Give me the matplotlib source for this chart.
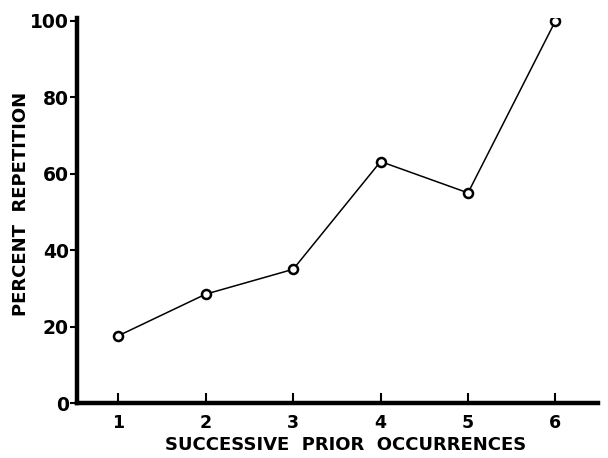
import matplotlib.pyplot as plt

# Successive prior occurrences vs percent repetition
occurrences = [1, 2, 3, 4, 5, 6]
percent_repetition = [17.6, 28.5, 35.0, 63.2, 55.0, 100.0]
y_ticks = [0, 20, 40, 60, 80, 100]

plt.rcParams['font.family'] = ['DejaVu Sans']
plt.rcParams['font.weight'] = 'bold'

fig = plt.figure(figsize=(6.08, 4.58), dpi=100)
ax = fig.add_axes([0.127, 0.120, 0.857, 0.841])

ax.plot(occurrences, percent_repetition, color='black', linewidth=1.1,
        marker='o', markersize=6.5, markerfacecolor='white',
        markeredgecolor='black', markeredgewidth=1.8)

ax.set_xlim(0.53, 6.49)
ax.set_ylim(0, 100.8)
ax.set_xticks(occurrences)
ax.set_yticks(y_ticks)

for side in ['top', 'right']:
    ax.spines[side].set_visible(False)
for side in ['left', 'bottom']:
    ax.spines[side].set_linewidth(3.2)

ax.tick_params(axis='x', direction='in', length=7, width=1.5, pad=8,
               labelsize=12.5)
ax.tick_params(axis='y', direction='out', length=5, width=1.5, pad=1,
               labelsize=13.5)

ax.set_xlabel('SUCCESSIVE  PRIOR  OCCURRENCES', fontsize=13,
              fontweight='bold', va='center')
ax.xaxis.set_label_coords(0.516, -0.109)
ax.set_ylabel('PERCENT  REPETITION', fontsize=13, fontweight='bold',
              va='center')
ax.yaxis.set_label_coords(-0.108, 0.517)

fig.savefig('out.png', dpi=100)
